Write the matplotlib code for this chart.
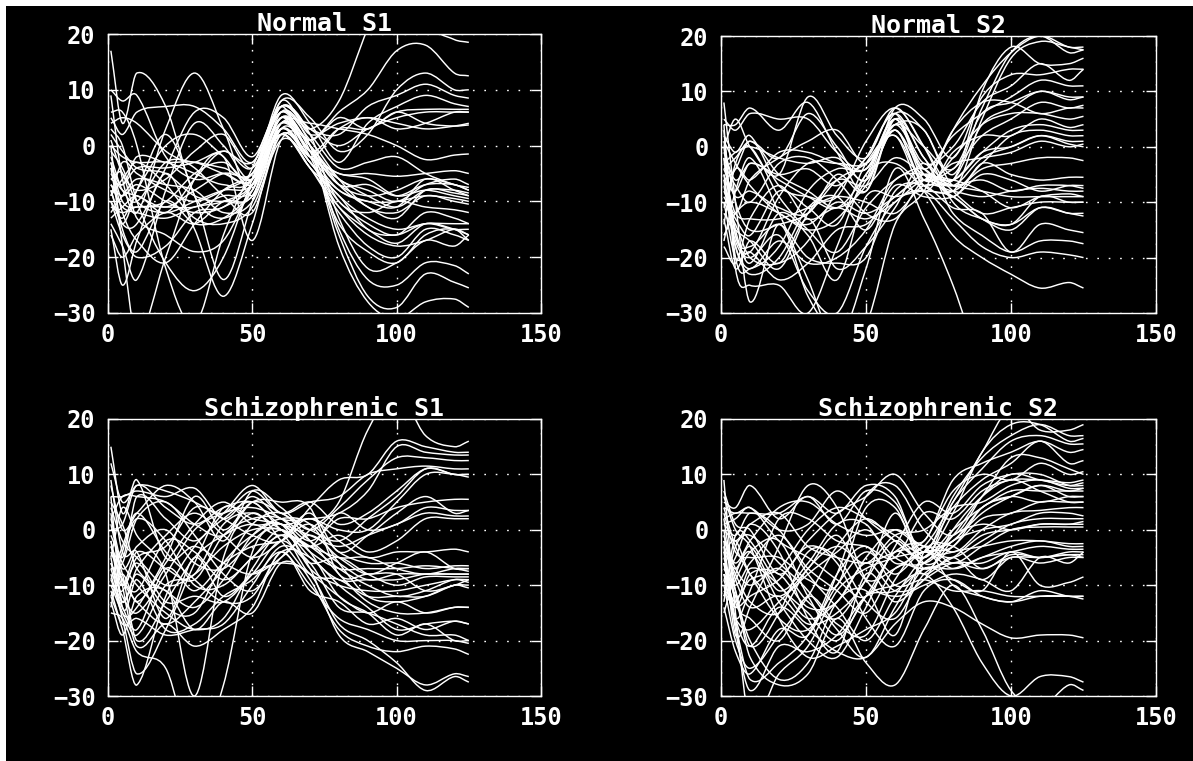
import matplotlib
matplotlib.use("Agg")
import matplotlib.pyplot as plt
from matplotlib.path import Path
from matplotlib.patches import PathPatch, Rectangle

W, H = 1193, 761
X = [1, 5, 10, 20, 30, 40, 50, 60, 70, 80, 90, 100, 110, 120, 125]
TICKS_X = [0, 50, 100, 150]
TICKS_Y = [-30, -20, -10, 0, 10, 20]
TITLES = ["Normal S1", "Normal S2", "Schizophrenic S1", "Schizophrenic S2"]

normal_s1 = [
 [17, 4, 13, 7, -9, -13, -8, 6, 3, 8, 21, 32, 22, 19, 18.5],
 [9, -6, -12, 3, 13, 3, -9, 4, 1, 6, 10, 17, 18, 13, 12.5],
 [10, 8, 9, -2, -6, -5, -6, 8, 5, -1, 2, 10, 13, 10, 10],
 [5, 2, 6, 7, 7, 3, -3, 7, 3, 2, 7, 9, 11, 9, 8.5],
 [-2, -8, -10, -3, -3, -4, -5, 9, 4, -3, 4, 7, 9, 7.5, 7],
 [-8, -14, -14, -4, 6, 5, -2, 7, -1, 3, 3, 6, 6.5, 6.5, 6.5],
 [-14, -18, -24, -8, 4, 0, -6, 5, -2, 3, 5, 3, 4, 6, 6],
 [0, -2, -3, -3, -5, -7, -6, 8, 2, 4, 5, 4, 3, 3.5, 4],
 [-6, -7, -4, -4, -3, -1, -3, 6, 1, 5, 3, 6, 4, 3.5, 3.7],
 [-10, -13, -8, 0, 2, -2, -7, 4, 4, 3, 2, 0, -2.5, -1.7, -1.5],
 [-3, -10, -11, -10, -5, -3, -6, 5, -1, -5, -5, -5.5, -5, -4.5, -5],
 [-5, -8, -9, -11, -8, -5, -5, 5, 0, -6, -8, -10, -7, -6, -7],
 [-9, -3, -5, -8, -10, -8, -5, 4, -1, -7, -7, -9, -7, -7, -8],
 [-1, -4, -10, -12, -10, -8, -7, 3, -2, -6, -9, -11, -8, -8, -8.5],
 [-7, -11, -12, -13, -11, -10, -7, 3, -3, -8, -10, -11, -6, -8, -9],
 [-12, -9, -6, -7, -8, -12, -10, 2, -2, -8, -10, -10, -9, -9.5, -10],
 [-16, -20, -16, -12, -14, -10, -9, 4, 0, -10, -12, -10, -11, -11.5, -12],
 [-4, -15, -19, -10, -14, -13, -8, 3, -3, -9, -13, -15, -14, -14, -14],
 [-10, -16, -20, -18, -12, -11, -6, 2, -4, -9, -15, -16, -14, -15, -15],
 [-3, -12, -17, -21, -14, -8, -5, 2, -4, -11, -15, -17.5, -14, -15, -16],
 [-6, -5, -13, -16, -19, -17, -7, 2, -4, -12, -18, -20, -15, -16, -17],
 [-15, -25, -17, -5, -15, -27, -14, 3, -2, -14, -19, -21, -16, -15, -17],
 [0, -18, -34, -20, -6, -2, -17, 1, 0, -15, -24, -25, -21, -21.5, -23],
 [-8, -14, -8, 2, -9, -24, -10, 5, -1, -16, -27, -29, -23, -24.5, -25.5],
 [3, 0, -10, -21, -26, -20, -6, 6, 0, -18, -28, -31, -28, -27.5, -29],
 [6, 6, 0, -22, -32, -16, -4, 7, 2, -13, -22, -21, -17, -18, -16],
 [-4, -7, -2, -3, -3, -5, -6, 7, 3, 0, 3, 5, 6, 6, 6],
 [-11, -12, -11, -11, -11, -9, -8, 4, -1, -7, -9, -8, -6, -7, -8],
 [2, -1, -4, -5, -9, -10, -9, 3, -2, -5, -6, -9, -8, -9, -9.5],
 [-7, -9, -7, -10, -12, -11, -7, 5, 0, -7, -11, -13, -8, -8.5, -9],
 [-13, -11, -9, -12, -6, -1, -4, 6, 1, -6, -11, -12, -9, -10, -10.5],
 [1, -5, -8, -6, -1, 2, -4, 7, 2, -4, -3, -2, -5, -7, -7.5],
 [4, 5, 4, -1, -4, -9, -12, 2, -3, -10, -14, -16, -12, -13, -14],
 [-9, -6, -3, -7, -13, -14, -11, 1, -3, -11, -16, -18, -17, -15, -16],
]

normal_s2 = [
 [8, -10, -28, -14, -27, -34, -32, -14, -8, 3, 11, 17, 20, 18, 18],
 [4, 4, 7, 3, 8, -1, -8, 5, -2, -8, 5, 16, 19, 18, 17.5],
 [5, 3, 6, 5, 5, -1, -4, 6, 3, -5, 7, 17, 20, 17, 17.5],
 [0, 5, 0, -5, 9, 2, -2, 7, 0, -6, 10, 18, 15, 15, 16],
 [-4, -2, 1, -2, 6, 0, -6, 7, 5, -2, 9, 13, 13, 14, 14],
 [-8, -12, -6, -2, 1, 3, -3, 5, -3, 0, 8, 11, 15, 12, 14],
 [-2, -16, -19, -9, -3, -3, -3, 3, -4, 2, 6, 9, 12, 11, 11],
 [3, -20, -22, -18, -8, -4, -4, 4, 0, -4, 6, 8, 10, 9, 9],
 [-1, -6, -3, -5, -4, -7, -2, 6, -5, -6, 4, 7, 10, 8.5, 9],
 [-3, -1, 0, -2, -3, -2, -6, 3, -6, 3, 8, 8, 6, 7, 7],
 [-6, -4, 1, -5, -8, -11, -7, 3, -7, -2, 4, 6, 6, 5, 5.5],
 [1, -10, -15, -14, -12, -6, -3, 2, -8, -1, 2, 2, 5, 3.5, 4],
 [-4, -9, -8, -11, -12, -5, -8, 5, -6, -3, -2, -1, 1, 0, 0.5],
 [-12, -15, -17, -22, -12, -6, -7, -2, -5, -7, -2, 0, 2, 0.5, 0],
 [-9, -13, -16, -8, -11, -14, -3, 2, -7, -8, -4, -3, -2, -2, -2.5],
 [-14, -3, 0, -9, -15, -19, -11, -6, -4, -9, -3, -5, -6, -5.5, -5.5],
 [-18, -21, -13, -7, -13, -11, -13, -10, -6, -7, -6, -8, -7, -7, -7.5],
 [-5, -12, -13, -13, -11, -9, -10, -12, -7, -8, -9, -8, -7.5, -8, -8],
 [-7, -18, -22, -17, -21, -20, -15, -6, -5, -7, -8, -9, -9, -9, -9],
 [-2, -15, -21, -12, -16, -24, -9, -9, -8, -9, -13, -14, -11, -12, -12],
 [-10, -20, -19, -24, -21, -15, -14, -9, -6, -9, -13, -15, -11, -12, -12.5],
 [0, -16, -18, -14, -20, -21, -20, -8, -7, -11, -12, -19, -14, -15, -15.5],
 [-13, -22, -17, -21, -13, -22, -18, -11, -3, -12, -16, -19, -17, -17, -17.5],
 [-6, -17, -20, -16, -26, -30, -18, -10, -8, -13, -18, -20, -19, -19.5, -20],
 [4, -22, -25, -25, -30, -18, -5, -3, -8, -16, -20, -23, -25.5, -24.5, -25.5],
 [-17, -8, -2, -12, -24, -35, -22, -4, -13, -25, -40, -50, -50, -50, -50],
 [2, -1, 2, -7, -9, -9, 1, 7, 0, -10, -13, -14, -9, -10, -10],
 [-11, -4, -6, -1, -1, -3, -4, 4, 3, -7, -3, 2, 3, 2, 2],
 [-6, -8, -3, -6, -9, -11, -5, 4, -4, -6, -1, 3, 4, 3, 3],
 [-16, -12, -10, -12, -15, -13, -6, 5, -5, -4, 2, 5, 8, 7, 7.5],
 [1, -3, -7, -12, -14, -10, -12, -9, -5, -6, -1, 0, 2, 1, 1],
 [-10, -14, -20, -21, -17, -8, -2, 6, -2, -8, -12, -11, -10, -10, -10],
 [-3, -7, -10, -3, -2, -6, -12, -13, -6, -6, -8, -11, -9, -8.5, -9],
 [-5, -18, -23, -20, -11, -9, -15, -7, -9, -9, -5, -6, -8, -7, -7],
]

schiz_s1 = [
 [15, 3, 9, -5, -3, -6, -8, -5, 0, 5, 18, 25, 17, 15, 16],
 [12, 5, 8, 7, 5, 2, -1, -2, 4, 9, 10, 16, 15, 14, 14],
 [6, 6, 7, 6, 7.5, 2, 6, 2, 2, 3, 7, 15, 14, 13.5, 13.5],
 [8, 0, 3, 8, 5, -2, 7, 4, 0, 4, 9, 13, 13, 12.5, 12.5],
 [2, -5, 6, 2, -2, 3, 8, 3, 5, 6, 10, 11, 11.5, 11, 11],
 [-2, -10, -5, -3, 4, 3, 7, 3, 5, 1, 3, 7, 11, 10, 10],
 [-5, -15, -14, -5, 6, 0, 5, 3, 0, -2, 2, 6, 11, 10, 10],
 [0, 1, 8, 4, 1, 4, 5, 1, 2, 0, 0, 5, 10, 10, 9.5],
 [-6, -12, -15, -8, 0, 3, 4, 2, -2, 2, 2, 4, 5, 5.5, 5.5],
 [-12, -18, -28, -12, -3, 2, 5, 0, -3, 3, 0, 1, 4, 3.5, 3.5],
 [-8, -16, -26, -18, -6, 4, 2, 1, -1, -3, -1, 1, 3, 2.5, 2.5],
 [4, -2, -5, -10, -8, -3, 0, 0, -3, -1, -4, -2, 2, 2, 2],
 [-3, -8, -20, -13, -5, -1, 1, -1, 2, -2, -5, -4, -4, -3.5, -4],
 [-9, -14, -18, -7, -11, -6, -3, -2, 1, -4, -6, -6, -7, -6.5, -6.5],
 [-14, -4, 2, -2, -10, -10, -5, -1, -3, -5, -5, -7, -8, -7, -7],
 [1, -7, -3, 0, -6, -7, -2, 1, -4, -7, -7, -7, -6.5, -7, -7.5],
 [-4, -9, -11, -2, -4, -9, -5, 0, -5, -9, -9, -9, -8, -8, -8],
 [-10, -11, -6, -13, -12, -13, -8, -2, -6, -5, -8, -10, -8.5, -8.5, -8.5],
 [-7, -13, -8, -14, -15, -6, -1, 1, -7, -10, -11, -11, -10, -9, -9],
 [-1, -6, -10, -15, -18, -16, -7, -1, -8, -9, -12, -12, -12, -10, -10],
 [-13, -19, -12, -11, -18, -13, -15, -6, -8, -12, -15, -13, -15, -14, -14],
 [3, -10, -21, -17, -21, -18, -14, -4, -11, -13, -17, -16, -18, -16.5, -17],
 [-11, -17, -16, -19, -18, -17, -10, -3, -6, -14, -15, -17, -19, -19, -20],
 [6, -14, -9, -18, -17, -12, -9, -4, -10, -16, -18, -20, -20, -20, -20.5],
 [-5, 4, -1, -8, -30, -5, 3, -2, -9, -18, -21, -22, -21, -21.5, -22.5],
 [-15, -16, -22, -25, -40, -28, -4, 0, -7, -19, -22, -25, -28, -26, -26.5],
 [9, -4, -4, -16, -5, -12, -8, -6, -8, -17, -20, -24, -29, -26.5, -27.5],
 [2, 6, 6, 5, 1, -1, 5, 5, 4, -8, -8, -8, -11, -10, -9],
 [-6, -10, -4, -7, -9, -1, 2, 2, -2, -6, -9, -8, -8, -8, -8],
 [-10, -15, -19, -10, -8, 1, 3, 0, -3, -7, -10, -12, -11, -9, -9.5],
 [5, 1, -7, -11, -14, -9, -1, 2, 1, -6, -12, -13, -12, -10, -10.5],
 [-3, -9, -13, -17, -13, -7, 1, 3, -2, -8, -13, -15, -15, -14, -14],
 [-9, -3, 3, -4, -9, -13, -12, -4, -5, -10, -14, -18, -17, -16.5, -17],
 [-2, -13, -7, -1, 3, -1, -5, -2, 3, -4, -1, 3, 6, 3, 3.5],
 [-7, -6, 2, 5, -1, -8, -11, -5, -1, -5, -8, -6, -4, -7, -7],
 [-12, -8, -13, -6, 1, 5, 1, 1, -4, -12, -15, -19, -17, -20, -20],
]

schiz_s2 = [
 [9, -15, -34, -26, -21, -11, -7, -5, -3, 5, 14, 22, 18, 18, 19],
 [5, 4, 8, 2, 6, 1, 7, 5, -4, 6, 13, 17, 19, 17, 17],
 [4, 3, 4, 0, 1, 7, 2, -2, -5, 3, 14, 19, 19, 16, 16.5],
 [2, 3, 3, 3, 6, 3, 8, 6, -5, 5, 11, 16, 17, 15.5, 15.5],
 [-2, -6, -2, 4, 5, 1, -1, 0, -2, 9, 12, 14, 16, 14, 14.5],
 [-5, -12, -9, -7, 0, 4, 2, -1, -4, 4, 9, 12, 16, 12, 12.5],
 [0, -2, 1, 3, -3, -5, -6, -4, -2, 7, 10, 9, 12, 10, 10.5],
 [-8, -16, -11, 2, 2, -2, -3, -5, 3, 2, 7, 9, 9, 8.5, 9],
 [1, 2, 4, -2, -5, -9, -12, -3, 5, 3, 8, 10, 10, 8, 8],
 [-3, -8, -13, -15, -7, -3, -6, -1, 0, 4, 5, 8, 9, 7.5, 7.5],
 [-10, -20, -25, -19, -12, -3, 2, -2, -5, 0, 4, 7, 7, 7, 7],
 [-6, -14, -8, -8, -14, -13, -5, 0, -3, -2, 4, 6, 5, 6, 6],
 [3, -4, -5, -5, -9, -10, 4, 4, -6, -3, 2, 3, 5, 5, 5],
 [-14, -22, -26, -18, -19, -8, 6, 8, 0, -4, 0, 3, 3.5, 4, 4],
 [-1, -9, -14, -12, -17, -15, -9, 3, -7, -2, 0, 1, 3, 3, 2.5],
 [-4, -7, -3, -11, -6, 1, 1, -6, -4, -5, -2, 1, 2, 2, 2],
 [-7, -10, -6, -1, -7, -11, -15, -7, -6, -1, 1, 0, 1, 1, 1],
 [0, -13, -16, -20, -12, -17, -19, -9, -3, -6, -3, 0, 0.5, 0.5, 0.5],
 [-12, -3, -1, -6, -11, -18, -23, -14, -6, -4, -3, -2, -2, -2.5, -2.5],
 [-2, -18, -29, -21, -22, -19, -12, -11, -7, -7, -5, -4, -3, -3.5, -3.5],
 [-9, -5, 1, -4, -16, -22, -8, -13, -9, -6, -6, -4, -5, -4, -4],
 [2, -11, -20, -27, -24, -13, -11, -19, -4, -3, -7, -4.5, -5, -4.5, -4.5],
 [-15, -8, -4, -13, -20, -23, -14, -4, -8, -5, -9, -5, -6, -5, -5],
 [6, 0, -3, -16, -23, -21, -18, -15, -7, -9, -11, -4, -10, -9.5, -8.5],
 [-6, -17, -27, -24, -19, -8, -3, -10, -9, -11, -11, -12, -12, -12, -12],
 [-11, -14, -12, -9, -3, -6, -16, -21, -11, -9, -12, -13, -12, -12, -12.5],
 [-4, -16, -21, -14, -18, -22, -23, -17, -13, -14, -17, -19.5, -19, -19, -19.5],
 [-13, -1, -2, -10, -15, -20, -12, -10, -8, -14, -24, -30, -26.5, -26.5, -27.5],
 [-8, -12, -23, -28, -26, -16, -24, -28, -18, -10, -18, -29, -32, -28, -29],
 [7, 1, 0, -8, -2, 3, 6, 10, 3, -1, 6, 13, 13, 11, 10],
 [-3, -19, -14, -3, 8, 4, -9, -12, -10, -8, -9, -11, -5, -6, -4],
 [-4, -2, -8, -12, -7, -1, -9, -7, -4, -3, 4, 6, 8, 7, 7.5],
 [-1, -7, -10, -7, -13, -16, -9, -2, -6, -1, 6, 10, 9, 8, 8.5],
 [-9, -16, -18, -13, -8, -4, 0, -5, -7, -5, -1, 0, 1, 1, 1.5],
 [4, -3, -8, -16, -18, -10, -4, -8, -4, -7, -5, -3, -2, -3, -3],
 [-6, -11, -21, -15, -4, -5, -13, -16, -8, -6, -7, -5, -5, -4.5, -5],
 [-12, -9, -4, -2, -12, -19, -12, -4, -3, -10, -12, -13, -11, -12, -12],
 [1, -1, 3, 0, -8, -14, -20, -12, -5, -2, 3, 6, 8, 6, 6],
 [-8, -13, -7, -10, -16, -13, -6, -11, -9, 0, 6, 9, 7, 5, 5],
]

PANELS = [normal_s1, normal_s2, schiz_s1, schiz_s2]
BOXES = [(108, 34, 541, 313), (721, 36, 1156, 313),
         (108, 419, 541, 696), (721, 419, 1156, 696)]


def smooth_path(xs, ys):
    """Bezier path passing through every read value, so the trace draws as a curve."""
    verts, codes = [(xs[0], ys[0])], [Path.MOVETO]
    n = len(xs)
    for i in range(n - 1):
        a, b = max(i - 1, 0), min(i + 2, n - 1)
        h = xs[i + 1] - xs[i]
        m0 = (ys[i + 1] - ys[a]) / (xs[i + 1] - xs[a])
        m1 = (ys[b] - ys[i]) / (xs[b] - xs[i])
        verts += [(xs[i] + h / 3, ys[i] + m0 * h / 3),
                  (xs[i + 1] - h / 3, ys[i + 1] - m1 * h / 3),
                  (xs[i + 1], ys[i + 1])]
        codes += [Path.CURVE4] * 3
    return Path(verts, codes)


fig = plt.figure(figsize=(W / 100, H / 100), dpi=100, facecolor="white")
fig.add_artist(Rectangle((6 / W, 0), 1 - 6 / W, 1 - 6 / H, transform=fig.transFigure,
                         facecolor="black", edgecolor="none", zorder=-5))

for curves, box, title in zip(PANELS, BOXES, TITLES):
    l, t, r, b = box
    ax = fig.add_axes([l / W, 1 - b / H, (r - l) / W, (b - t) / H], facecolor="black")
    ax.set_xlim(0, 150)
    ax.set_ylim(-30, 20)
    for ys in curves:
        ax.add_patch(PathPatch(smooth_path(X, ys), facecolor="none", edgecolor="white",
                               lw=1.05, clip_on=True))
    ax.set_xticks(TICKS_X)
    ax.set_yticks(TICKS_Y)
    ax.set_xticklabels([str(v) for v in TICKS_X])
    ax.set_yticklabels([str(v).replace("-", "\u2212") for v in TICKS_Y])
    ax.tick_params(direction="in", length=7, width=1.0, color="white", top=True, right=True,
                   labelcolor="white", labelsize=17, pad=7)
    ax.tick_params(axis="y", pad=9)
    for lab in ax.get_xticklabels() + ax.get_yticklabels():
        lab.set_family("DejaVu Sans Mono")
        lab.set_weight("bold")
    ax.grid(True, color="white", lw=1.0, linestyle=(0, (1.2, 7)))
    ax.set_axisbelow(True)
    for s in ax.spines.values():
        s.set_color("white")
        s.set_linewidth(1.0)
    ax.set_title(title, color="white", family="DejaVu Sans Mono", weight="bold",
                 fontsize=18, pad=2)

fig.savefig("out.png", dpi=100, facecolor="white")
